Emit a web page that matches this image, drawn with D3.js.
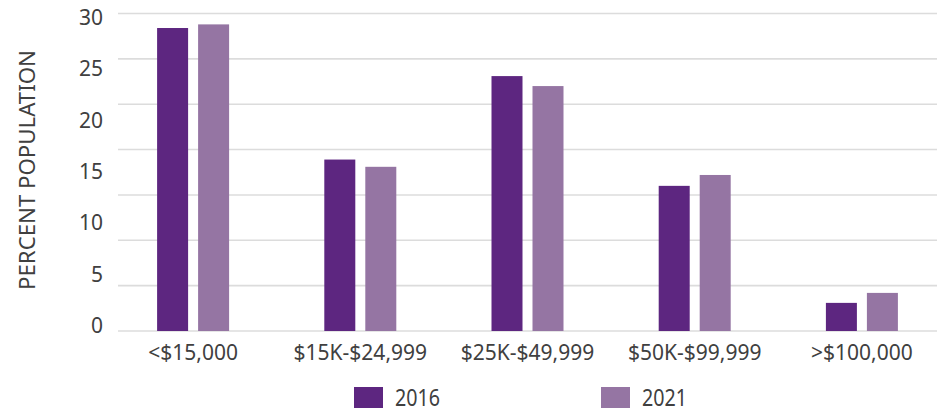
<!DOCTYPE html>
<html>
<head>
<meta charset="utf-8">
<script src="https://cdn.jsdelivr.net/npm/d3@7"></script>
<style>
  body { margin: 0; background: #fff; }
  #svgDiv { width: 947px; height: 408px; }
  text { font-family: "Noto Sans", sans-serif; fill: #404040; }
</style>
</head>
<body>
<div id="svgDiv"></div>
<script>
// data
var categories = ["<$15,000", "$15K-$24,999", "$25K-$49,999", "$50K-$99,999", ">$100,000"];
var years = ["2016", "2021"];
var values2016 = [33.4, 18.9, 28.1, 16.0, 3.1];
var values2021 = [33.8, 18.1, 27.0, 17.2, 4.2];
var gridTicks = [0, 5, 10, 15, 20, 25, 30, 35];
var tickLabels = [0, 5, 10, 15, 20, 25, 30];
var colors = ["#5d2680", "#9575a3"];

var svgWidth = 947, svgHeight = 408;

var svg = d3.select("#svgDiv")
    .append("svg")
    .attr("width", svgWidth)
    .attr("height", svgHeight);

// scales
var yScale = d3.scaleLinear()
    .domain([0, 35])
    .range([331, 13.5]);

// tick labels in the original sit on their own spacing
var yLabelScale = d3.scaleLinear()
    .domain([0, 30])
    .range([325.5, 17.5]);

var xScale = d3.scaleBand()
    .domain(categories)
    .range([109.5, 945.5]);

var x1Scale = d3.scaleBand()
    .domain(years)
    .range([-36, 36])
    .paddingInner(10 / 41);

var colorScale = d3.scaleOrdinal()
    .domain(years)
    .range(colors);

// gridlines
svg.selectAll(".grid")
    .data(gridTicks)
    .enter().append("line")
    .attr("class", "grid")
    .attr("x1", 118)
    .attr("x2", 937)
    .attr("y1", d => yScale(d))
    .attr("y2", d => yScale(d))
    .attr("stroke", "#dcdcdc")
    .attr("stroke-width", 1.6);

// y tick labels
svg.selectAll(".ylab")
    .data(tickLabels)
    .enter().append("text")
    .attr("class", "ylab")
    .attr("x", 103)
    .attr("y", d => yLabelScale(d))
    .attr("dy", "0.36em")
    .attr("text-anchor", "end")
    .style("font-size", "21px")
    .text(d => d);

// y axis title
svg.append("text")
    .attr("transform", "translate(35,170) rotate(-90)")
    .attr("text-anchor", "middle")
    .style("font-size", "22px")
    .attr("textLength", 240)
    .attr("lengthAdjust", "spacingAndGlyphs")
    .text("PERCENT POPULATION");

// bars
var rows = categories.map(function(c, i) {
    return {cat: c, vals: [{year: "2016", v: values2016[i]}, {year: "2021", v: values2021[i]}]};
});

var groups = svg.selectAll(".group")
    .data(rows)
    .enter().append("g")
    .attr("class", "group")
    .attr("transform", d => "translate(" + (xScale(d.cat) + xScale.bandwidth() / 2) + ",0)");

groups.selectAll("rect")
    .data(d => d.vals)
    .enter().append("rect")
    .attr("x", d => x1Scale(d.year))
    .attr("width", x1Scale.bandwidth())
    .attr("y", d => yScale(d.v))
    .attr("height", d => yScale(0) - yScale(d.v))
    .attr("fill", d => colorScale(d.year));

// category labels
svg.selectAll(".xlab")
    .data(categories)
    .enter().append("text")
    .attr("class", "xlab")
    .attr("x", d => xScale(d) + xScale.bandwidth() / 2)
    .attr("y", 352)
    .attr("dy", "0.36em")
    .attr("text-anchor", "middle")
    .style("font-size", "21px")
    .text(d => d);

// legend
var legendX = [354, 601];
var legend = svg.selectAll(".legend")
    .data(years)
    .enter().append("g")
    .attr("class", "legend")
    .attr("transform", (d, i) => "translate(" + legendX[i] + ",387)");

legend.append("rect")
    .attr("width", 29)
    .attr("height", 21)
    .attr("fill", d => colorScale(d));

legend.append("text")
    .attr("x", 41)
    .attr("y", 10)
    .attr("dy", "0.36em")
    .style("font-size", "24px")
    .attr("textLength", 45)
    .attr("lengthAdjust", "spacingAndGlyphs")
    .text(d => d);
</script>
</body>
</html>
